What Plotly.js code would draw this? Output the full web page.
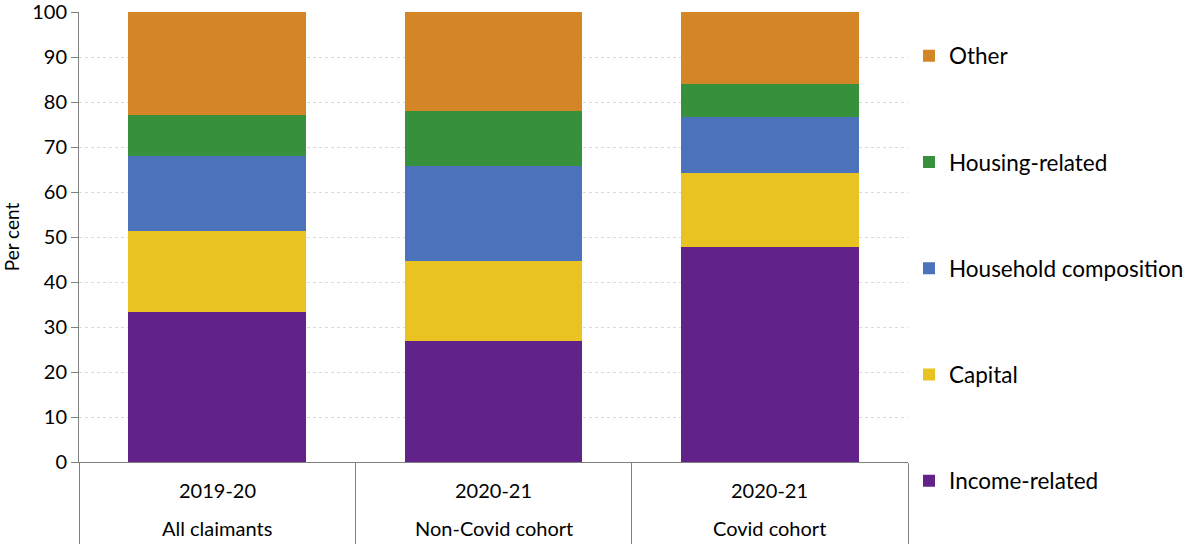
<!DOCTYPE html>
<html>
<head>
<meta charset="utf-8">
<script src="https://cdn.plot.ly/plotly-3.0.1.min.js"></script>
<style>html,body{margin:0;padding:0;background:#fff;}#chart{width:1200px;height:544px;}</style>
</head>
<body>
<div id="chart"></div>
<script>
var groupLabels = ["All claimants", "Non-Covid cohort", "Covid cohort"];
var yearLabels = ["2019-20", "2020-21", "2020-21"];
var seriesNames = ["Income-related", "Capital", "Household composition", "Housing-related", "Other"];
var incomeRelated = [33.3, 26.8, 47.7];
var capital = [18.1, 17.8, 16.5];
var householdComposition = [16.5, 21.2, 12.4];
var housingRelated = [9.2, 12.3, 7.3];
var other = [22.9, 21.9, 16.1];
var colors = ["#61238A", "#E8C321", "#4B72BA", "#37913C", "#D48526"];

var seriesValues = [incomeRelated, capital, householdComposition, housingRelated, other];
var traces = seriesValues.map(function (vals, i) {
  return {
    type: "bar",
    name: seriesNames[i],
    x: groupLabels,
    y: vals,
    legendgroup: "g" + i,
    legendrank: seriesValues.length - i,
    marker: { color: colors[i], line: { width: 0 } },
    hoverinfo: "y+name"
  };
});

var font = "Lato, 'Open Sans', sans-serif";
var annotations = [];
groupLabels.forEach(function (g, i) {
  annotations.push({
    x: g, xref: "x", y: -0.0622, yref: "paper",
    yanchor: "middle", xanchor: "center",
    text: yearLabels[i], showarrow: false,
    font: { family: font, size: 20, color: "#000" }
  });
  annotations.push({
    x: g, xref: "x", y: -0.147, yref: "paper",
    yanchor: "middle", xanchor: "center",
    text: g, showarrow: false,
    font: { family: font, size: 20, color: "#000" }
  });
});

var layout = {
  width: 1200,
  height: 544,
  margin: { l: 79, r: 291, t: 12, b: 82 },
  barmode: "stack",
  bargap: 0.357,
  paper_bgcolor: "#fff",
  plot_bgcolor: "#fff",
  font: { family: font, color: "#000", size: 18 },
  showlegend: true,
  legend: {
    x: 1.0, xanchor: "left",
    y: 0.43, yanchor: "middle",
    traceorder: "grouped",
    tracegroupgap: 74,
    maxheight: 540,
    font: { family: font, size: 22.5, color: "#000" },
    itemwidth: 30
  },
  annotations: annotations,
  xaxis: {
    type: "category",
    showline: true,
    linecolor: "#808080",
    linewidth: 1,
    tickson: "boundaries",
    ticks: "outside",
    ticklen: 82,
    tickwidth: 1,
    tickcolor: "#808080",
    showticklabels: false,
    showgrid: false,
    zeroline: false
  },
  yaxis: {
    range: [0, 100],
    tick0: 0,
    dtick: 10,
    showline: true,
    linecolor: "#808080",
    linewidth: 1,
    ticks: "outside",
    ticklen: 7,
    tickcolor: "#808080",
    showgrid: true,
    gridcolor: "#d9d9d9",
    griddash: "dot",
    gridwidth: 1,
    zeroline: false,
    ticklabeloverflow: "allow",
    tickfont: { family: font, size: 20, color: "#000" },
    title: { text: "Per cent", font: { family: font, size: 19, color: "#000" }, standoff: 17 }
  }
};

Plotly.newPlot("chart", traces, layout, { displayModeBar: false, staticPlot: true });
</script>
</body>
</html>
